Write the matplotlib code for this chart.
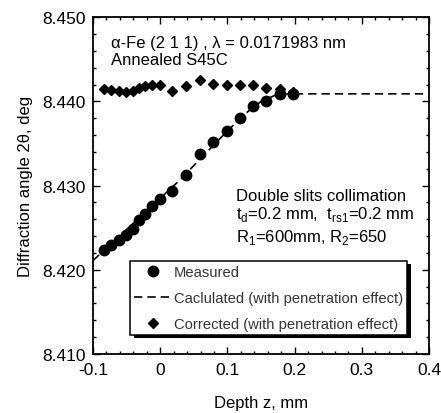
import numpy as np
import matplotlib
matplotlib.use('Agg')
import matplotlib.pyplot as plt
from matplotlib.ticker import MultipleLocator, FormatStrFormatter
from matplotlib.patches import Rectangle

plt.rcParams['font.family'] = ['Liberation Sans', 'DejaVu Sans']
plt.rcParams['mathtext.fontset'] = 'custom'
plt.rcParams['mathtext.rm'] = 'Liberation Sans'

# depth z (mm) and diffraction angle 2theta (deg)
depth = [-0.083, -0.073, -0.062, -0.051, -0.041, -0.031, -0.022, -0.012, 0.0,
         0.017, 0.038, 0.059, 0.078, 0.099, 0.119, 0.138, 0.157, 0.178, 0.198]
measured = [8.4223, 8.4229, 8.4235, 8.4241, 8.4249, 8.4259, 8.4266, 8.4276, 8.4284,
            8.4294, 8.4313, 8.4338, 8.4352, 8.4365, 8.4380, 8.4394, 8.4401, 8.4409, 8.4409]
corrected = [8.4415, 8.4414, 8.4412, 8.4411, 8.4412, 8.4416, 8.4418, 8.4419, 8.4419,
             8.4412, 8.4418, 8.4425, 8.4421, 8.4420, 8.4419, 8.4419, 8.4416, 8.4415, 8.4411]

# calculated curve (with penetration effect)
calc_z = [-0.1, 0.0, 0.027, 0.066, 0.089, 0.109, 0.129, 0.15, 0.17, 0.19, 0.4]
calc_2t = [8.4211, 8.4285, 8.4305, 8.4337, 8.4356, 8.4372, 8.4387, 8.4400, 8.4407, 8.4409, 8.4409]

fig = plt.figure(figsize=(4.41, 4.14), dpi=100)
ax = fig.add_axes([0.211, 0.1425, 0.762, 0.8135])

ax.plot(calc_z, calc_2t, color='black', linestyle=(0, (5, 3)), linewidth=1.2,
        label='Caclulated (with penetration effect)', zorder=2)
ax.plot(depth, measured, 'o', color='black', markersize=7.5,
        label='Measured', zorder=3)
ax.plot(depth, corrected, 'D', color='black', markersize=5.2,
        label='Corrected (with penetration effect)', zorder=3)

ax.set_xlim(-0.1, 0.4)
ax.set_ylim(8.410, 8.450)
ax.xaxis.set_major_locator(MultipleLocator(0.1))
ax.xaxis.set_minor_locator(MultipleLocator(0.02))
ax.yaxis.set_major_locator(MultipleLocator(0.01))
ax.yaxis.set_minor_locator(MultipleLocator(0.002))
ax.yaxis.set_major_formatter(FormatStrFormatter('%.3f'))
ax.xaxis.set_major_formatter(plt.FuncFormatter(lambda v, p: '0' if abs(v) < 1e-9 else f'{v:.1f}'))
ax.tick_params(which='both', direction='in', top=True, right=True, labelsize=12.5)
ax.tick_params(which='major', length=5, width=1)
ax.tick_params(which='minor', length=2.5, width=1)
ax.tick_params(axis='x', pad=6)
ax.tick_params(axis='y', pad=5)
for s in ax.spines.values():
    s.set_linewidth(1.3)

ax.set_xlabel('Depth z, mm', fontsize=12, labelpad=13)
ax.set_ylabel('Diffraction angle 2θ, deg', fontsize=12, labelpad=7)

ax.text(-0.0726, 8.4470, 'α-Fe (2 1 1) , λ = 0.0171983 nm', fontsize=12, va='center')
ax.text(-0.0726, 8.4450, 'Annealed S45C', fontsize=12, va='center')
ax.text(0.1125, 8.4288, 'Double slits collimation', fontsize=12, va='center')
ax.text(0.1125, 8.4267, r't$_\mathregular{d}$=0.2 mm,  t$_\mathregular{rs1}$=0.2 mm', fontsize=12, va='center')
ax.text(0.1125, 8.4240, r'R$_\mathregular{1}$=600mm, R$_\mathregular{2}$=650', fontsize=12, va='center')

handles, labels = ax.get_legend_handles_labels()
order = [1, 0, 2]
leg = ax.legend([handles[i] for i in order], [labels[i] for i in order],
                loc='upper left', bbox_to_anchor=(0.109, 0.276), fontsize=10.6,
                frameon=True, fancybox=False, edgecolor='black', framealpha=1,
                borderpad=0.3, labelspacing=0.8, handlelength=2.6, handletextpad=0.1,
                borderaxespad=0)
leg.get_frame().set_linewidth(1.1)
for t in leg.get_texts():
    t.set_color('#333333')
leg.set_zorder(5)

fig.canvas.draw()
bb = leg.get_window_extent()
off = 4
shadow = Rectangle(((bb.x0 + off) / fig.bbox.width, (bb.y0 - off + 1) / fig.bbox.height),
                   bb.width / fig.bbox.width, bb.height / fig.bbox.height,
                   transform=fig.transFigure, facecolor='black', edgecolor='none', zorder=4)
ax.add_patch(shadow)
shadow.set_clip_on(False)

fig.savefig('out.png', dpi=100)
